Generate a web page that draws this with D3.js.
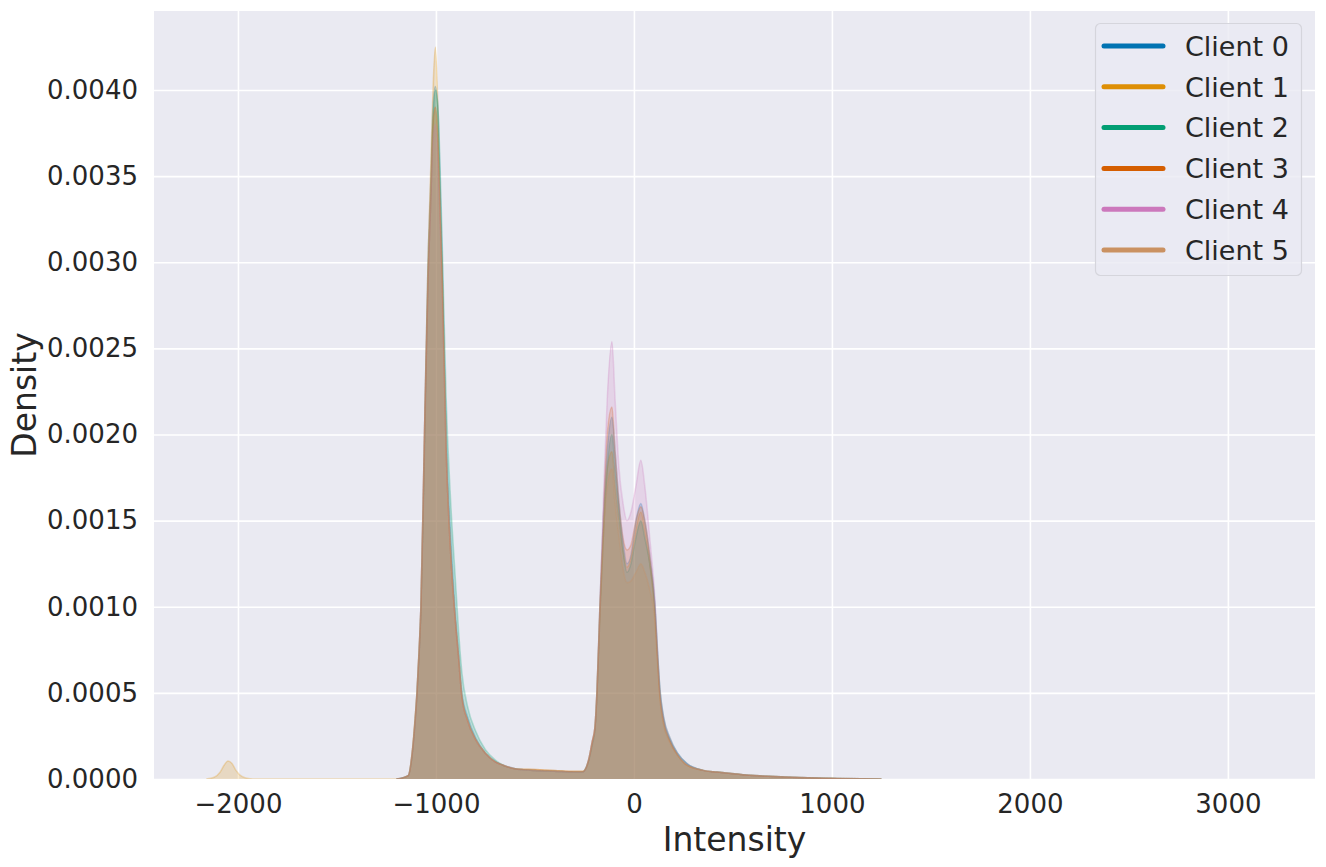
<!DOCTYPE html>
<html>
<head>
<meta charset="utf-8">
<script src="https://cdn.jsdelivr.net/npm/d3@7"></script>
<style>
  html, body { margin: 0; padding: 0; background: #ffffff; }
  svg { display: block; font-family: "DejaVu Sans", sans-serif; }
</style>
</head>
<body>
<svg id="chart" width="1326" height="867"></svg>
<script>
// ---------------- data ----------------
const clients = ["Client 0", "Client 1", "Client 2", "Client 3", "Client 4", "Client 5"];
const colors = ["#0173b2", "#de8f05", "#029e73", "#d55e00", "#cc78bc", "#ca9161"];

const xTicks = [-2000, -1000, 0, 1000, 2000, 3000];
const yTicks = [0, 0.0005, 0.001, 0.0015, 0.002, 0.0025, 0.003, 0.0035, 0.004];

// intensity grid shared by all clients
const intensity = [
  -1200,-1140,-1120,-1105,-1096,-1085,-1076,-1058,-1040,-1025,
  -1015,-1003,-990,-980,-968,-948,-925,-904,-885,-869,
  -840,-800,-750,-700,-660,-600,-500,-400,-300,-260,
  -240,-225,-210,-197,-187,-172,-155,-135,-111,-95,
  -75,-55,-35,-15,10,35,55,80,106,120,
  131,150,182,220,268,350,420,550,650,800,
  1000,1150,1250
];

const client0 = [
  0,0.00002,0.00015,0.00035,0.0005,0.00075,0.001,0.002,0.003,0.0035,
  0.0039,0.00402,0.0039,0.0035,0.003,0.002,0.0014,0.001,0.00072,0.0005,
  0.00036,0.00024,0.00015,0.0001,0.00008,0.00006,0.00005,0.000045,0.00004,0.00004,
  0.00007,0.00013,0.00022,0.0003,0.0005,0.001,0.0015,0.0019,0.0021,0.0019,
  0.0016,0.00138,0.00125,0.0013,0.0015,0.0016,0.0015,0.0013,0.00102,0.00072,
  0.00052,0.00035,0.00023,0.00015,0.00009,0.00005,0.00004,0.000025,0.000018,0.00001,
  0.000004,0.000001,0
];
const client1 = [
  0,0.00002,0.00016,0.00036,0.0005,0.00076,0.001,0.002,0.003,0.0036,
  0.0040,0.00425,0.0039,0.0034,0.0029,0.0019,0.0013,0.00095,0.0007,0.00048,
  0.00034,0.00023,0.00015,0.0001,0.00008,0.00006,0.000055,0.00005,0.000045,0.000045,
  0.00007,0.00013,0.00022,0.0003,0.0005,0.00098,0.0014,0.0018,0.0019,0.0017,
  0.0015,0.00132,0.00123,0.00128,0.00145,0.00155,0.00145,0.00125,0.00095,0.00068,
  0.00048,0.00032,0.00022,0.00014,0.00008,0.00005,0.00004,0.000025,0.000018,0.00001,
  0.000004,0.000001,0
];
const client2 = [
  0,0.00002,0.00014,0.00033,0.00048,0.00072,0.00097,0.0019,0.0029,0.0034,
  0.0038,0.0040,0.0039,0.0036,0.0031,0.0022,0.0016,0.0012,0.00085,0.00062,
  0.00042,0.00028,0.00017,0.00011,0.00008,0.00006,0.00005,0.000045,0.00004,0.00004,
  0.00007,0.00012,0.0002,0.00028,0.00048,0.00095,0.0014,0.0018,0.0020,0.0018,
  0.00155,0.00133,0.0012,0.00125,0.0014,0.0015,0.0014,0.00125,0.001,0.00072,
  0.00053,0.00036,0.00024,0.00015,0.00009,0.00005,0.00004,0.000025,0.000018,0.00001,
  0.000004,0.000001,0
];
const client3 = [
  0,0.00002,0.00015,0.00035,0.0005,0.00074,0.001,0.002,0.0029,0.0034,
  0.0038,0.0039,0.0037,0.0033,0.0029,0.0019,0.0013,0.00095,0.0007,0.00048,
  0.00034,0.00023,0.00015,0.0001,0.00008,0.00006,0.000055,0.00005,0.000045,0.000045,
  0.00007,0.00013,0.00022,0.0003,0.0005,0.001,0.0015,0.002,0.00216,0.0019,
  0.0016,0.0014,0.00133,0.00136,0.0015,0.00158,0.0015,0.0013,0.001,0.0007,
  0.0005,0.00034,0.00022,0.00014,0.00008,0.00005,0.00004,0.000025,0.000018,0.00001,
  0.000004,0.000001,0
];
const client4 = [
  0,0.00002,0.00015,0.00034,0.00049,0.00074,0.001,0.002,0.0029,0.0034,
  0.0037,0.0038,0.0036,0.0033,0.0028,0.0019,0.0013,0.00095,0.0007,0.00048,
  0.00034,0.00023,0.00015,0.0001,0.00008,0.00006,0.00005,0.000045,0.00004,0.00004,
  0.00007,0.00013,0.00022,0.0003,0.0005,0.001,0.0016,0.0022,0.00254,0.0022,
  0.0018,0.0016,0.0015,0.00155,0.0017,0.00185,0.0017,0.0014,0.00105,0.00074,
  0.00053,0.00036,0.00024,0.00015,0.00009,0.00005,0.00004,0.000025,0.000018,0.00001,
  0.000004,0.000001,0
];
const client5 = [
  0,0.00002,0.00015,0.00035,0.0005,0.00075,0.001,0.002,0.003,0.0035,
  0.0038,0.0039,0.0037,0.0034,0.0029,0.0019,0.0013,0.00095,0.0007,0.00048,
  0.00034,0.00023,0.00015,0.0001,0.00008,0.00006,0.00005,0.000045,0.00004,0.00004,
  0.00007,0.00013,0.00022,0.0003,0.0005,0.00095,0.0014,0.0017,0.0018,0.0016,
  0.0014,0.00122,0.00114,0.00115,0.0012,0.00125,0.0012,0.0011,0.00092,0.00066,
  0.00047,0.00032,0.00021,0.00014,0.00008,0.00005,0.00004,0.000025,0.000018,0.00001,
  0.000004,0.000001,0
];
// small low-intensity bump present only for Client 1
const client1BumpX = [-2160,-2120,-2090,-2070,-2050,-2030,-2010,-1980,-1940,-1900];
const client1BumpY = [0,0.00001,0.00004,0.00008,0.000105,0.00009,0.00005,0.000015,0.000002,0];

// ---------------- build series ----------------
const densities = [client0, client1, client2, client3, client4, client5];
const series = clients.map((name, i) => {
  let xs = intensity, ys = densities[i];
  if (i === 1) { xs = client1BumpX.concat(intensity); ys = client1BumpY.concat(client1); }
  return { name, color: colors[i], points: xs.map((x, k) => ({ x, y: ys[k] })) };
});

// ---------------- layout ----------------
const svg = d3.select("#chart");
const plot = { left: 154, right: 1315, top: 11, bottom: 779 };

const x = d3.scaleLinear().domain([-2424, 3440]).range([plot.left, plot.right]);
const y = d3.scaleLinear().domain([0, 0.004459]).range([plot.bottom, plot.top]);

// background
svg.append("rect")
  .attr("x", plot.left).attr("y", plot.top)
  .attr("width", plot.right - plot.left).attr("height", plot.bottom - plot.top)
  .attr("fill", "#eaeaf2");

// grid
const xAxis = d3.axisBottom(x).tickValues(xTicks)
  .tickSize(-(plot.bottom - plot.top)).tickPadding(16)
  .tickFormat(d => d3.format("d")(d).replace("-", "\u2212"));
const gx = svg.append("g").attr("transform", `translate(0,${plot.bottom})`).call(xAxis);

const yAxis = d3.axisLeft(y).tickValues(yTicks)
  .tickSize(-(plot.right - plot.left)).tickPadding(16)
  .tickFormat(d3.format(".4f"));
const gy = svg.append("g").attr("transform", `translate(${plot.left},0)`).call(yAxis);

[gx, gy].forEach(g => {
  g.select(".domain").remove();
  g.selectAll(".tick line").attr("stroke", "#ffffff").attr("stroke-width", 1.6);
  g.selectAll(".tick text").attr("fill", "#262626")
    .style("font-size", "26px").style("font-family", "DejaVu Sans, sans-serif");
});

// clip
svg.append("clipPath").attr("id", "clip").append("rect")
  .attr("x", plot.left).attr("y", plot.top)
  .attr("width", plot.right - plot.left).attr("height", plot.bottom - plot.top);

const area = d3.area().x(d => x(d.x)).y0(y(0)).y1(d => y(d.y)).curve(d3.curveMonotoneX);
const line = d3.line().x(d => x(d.x)).y(d => y(d.y)).curve(d3.curveMonotoneX);

const marks = svg.append("g").attr("clip-path", "url(#clip)");
series.forEach(s => {
  marks.append("path").datum(s.points)
    .attr("d", area)
    .attr("fill", s.color).attr("fill-opacity", 0.2)
    .attr("stroke", "none");
  marks.append("path").datum(s.points)
    .attr("d", line)
    .attr("fill", "none")
    .attr("stroke", s.color).attr("stroke-opacity", 0.25).attr("stroke-width", 1.5);
});

// axis labels
svg.append("text")
  .attr("x", (plot.left + plot.right) / 2).attr("y", 851)
  .attr("text-anchor", "middle").attr("fill", "#262626")
  .style("font-size", "33px").text("Intensity");
svg.append("text")
  .attr("transform", `translate(36,${(plot.top + plot.bottom) / 2}) rotate(-90)`)
  .attr("text-anchor", "middle").attr("fill", "#262626")
  .style("font-size", "33px").text("Density");

// legend
const legend = svg.append("g");
legend.append("rect")
  .attr("x", 1095.5).attr("y", 23.5).attr("width", 206).attr("height", 252)
  .attr("rx", 5).attr("ry", 5)
  .attr("fill", "#eaeaf2").attr("fill-opacity", 0.8)
  .attr("stroke", "#d5d5dc").attr("stroke-width", 1.2);
clients.forEach((name, i) => {
  const cy = 46 + i * 40.8;
  legend.append("line")
    .attr("x1", 1104).attr("x2", 1163).attr("y1", cy).attr("y2", cy)
    .attr("stroke", colors[i]).attr("stroke-width", 5).attr("stroke-linecap", "round");
  legend.append("text")
    .attr("x", 1185).attr("y", cy).attr("dy", "0.36em")
    .attr("fill", "#262626").style("font-size", "27px").text(name);
});
</script>
</body>
</html>
